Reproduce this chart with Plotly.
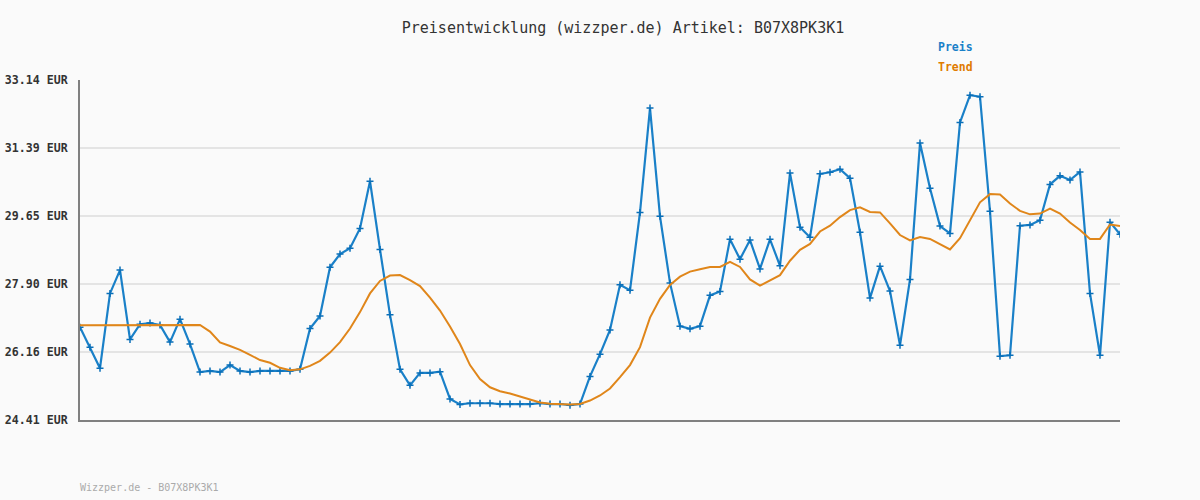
import plotly.graph_objects as go

title_text = "Preisentwicklung (wizzper.de) Artikel: B07X8PK3K1"
footer_text = "Wizzper.de - B07X8PK3K1"

preis = [
    26.79, 26.28, 25.74, 27.66, 28.26, 26.48, 26.87, 26.90, 26.85, 26.41,
    27.00, 26.36, 25.64, 25.67, 25.64, 25.82, 25.67, 25.64, 25.67, 25.67,
    25.67, 25.67, 25.71, 26.76, 27.08, 28.33, 28.67, 28.82, 29.33, 30.54,
    28.79, 27.11, 25.71, 25.30, 25.62, 25.62, 25.65, 24.95, 24.81, 24.84,
    24.84, 24.84, 24.82, 24.82, 24.82, 24.82, 24.84, 24.82, 24.82, 24.79,
    24.82, 25.53, 26.10, 26.72, 27.88, 27.74, 29.74, 32.42, 29.64, 27.93,
    26.82, 26.75, 26.82, 27.61, 27.71, 29.05, 28.54, 29.03, 28.29, 29.05,
    28.37, 30.75, 29.36, 29.10, 30.73, 30.77, 30.85, 30.62, 29.23, 27.54,
    28.36, 27.72, 26.33, 28.02, 31.52, 30.36, 29.39, 29.20, 32.05, 32.75,
    32.71, 29.77, 26.05, 26.07, 29.40, 29.42, 29.54, 30.46, 30.68, 30.57,
    30.78, 27.66, 26.07, 29.49, 29.18,
]

trend = [
    26.84, 26.84, 26.84, 26.84, 26.84, 26.84, 26.84, 26.84, 26.84, 26.84,
    26.85, 26.85, 26.85, 26.68, 26.40, 26.31, 26.21, 26.08, 25.95, 25.88,
    25.75, 25.69, 25.71, 25.80, 25.93, 26.14, 26.41, 26.76, 27.18, 27.66,
    27.98, 28.12, 28.13, 28.00, 27.85, 27.55, 27.22, 26.81, 26.36, 25.82,
    25.46, 25.25, 25.15, 25.09, 25.01, 24.94, 24.86, 24.83, 24.82, 24.81,
    24.82, 24.91, 25.04, 25.22, 25.51, 25.82, 26.28, 27.04, 27.52, 27.88,
    28.09, 28.22, 28.28, 28.34, 28.34, 28.47, 28.34, 28.02, 27.86, 28.00,
    28.13, 28.50, 28.78, 28.93, 29.25, 29.40, 29.62, 29.80, 29.87, 29.75,
    29.74, 29.46, 29.16, 29.02, 29.11, 29.06, 28.93, 28.79, 29.08, 29.55,
    30.00, 30.21, 30.20, 29.97, 29.78, 29.69, 29.71, 29.84, 29.71, 29.48,
    29.29, 29.06, 29.06, 29.43, 29.39,
]

y_ticks = [24.41, 26.16, 27.90, 29.65, 31.39, 33.14]
y_tick_labels = ["24.41 EUR", "26.16 EUR", "27.90 EUR", "29.65 EUR", "31.39 EUR", "33.14 EUR"]

x = list(range(len(preis)))

BLUE = "#1a80c8"
ORANGE = "#e0861a"
MONO = "DejaVu Sans Mono"

fig = go.Figure()
fig.add_trace(go.Scatter(
    x=x, y=preis, mode="lines+markers", name="Preis",
    line=dict(color=BLUE, width=2.2),
    marker=dict(symbol="cross-thin", size=5, color=BLUE, line=dict(color="#0a6fb8", width=1.5)),
    hoverinfo="y",
))
fig.add_trace(go.Scatter(
    x=x, y=trend, mode="lines", name="Trend",
    line=dict(color=ORANGE, width=2),
    hoverinfo="y",
))

fig.update_layout(
    width=1200, height=500,
    margin=dict(l=80, r=80, t=80, b=80, autoexpand=False),
    paper_bgcolor="#fafafa", plot_bgcolor="#fafafa",
    showlegend=False,
    font=dict(family=MONO, color="#333333"),
    title=dict(text=title_text, x=623 / 1200, xanchor="center", y=1 - 28 / 500, yanchor="middle",
               font=dict(family=MONO, size=15, color="#333333")),
)
fig.update_xaxes(
    range=[0, len(preis) - 1], showgrid=False, zeroline=False, showticklabels=False,
    showline=True, linecolor="#808080", linewidth=2, ticks="", automargin=False,
)
fig.update_yaxes(
    range=[y_ticks[0], y_ticks[-1]], tickvals=y_ticks, ticktext=y_tick_labels,
    showgrid=True, gridcolor="#e4e4e4", gridwidth=2, zeroline=False,
    showline=True, linecolor="#808080", linewidth=2, ticks="", automargin=False,
    tickfont=dict(family=MONO, size=11.6, color="#333333", weight="bold"),
    ticklabelstandoff=8,
)

plot_w, plot_h = 1040, 340
def px_to_paper(px, py):
    return (px - 80) / plot_w, 1 - (py - 80) / plot_h

ax, ay = px_to_paper(975, 47)
fig.add_annotation(text="Preis", xref="paper", yref="paper", x=ax, y=ay, showarrow=False,
                   xanchor="right", yanchor="middle",
                   font=dict(family=MONO, size=11.5, color=BLUE, weight="bold"))
ax, ay = px_to_paper(975, 67)
fig.add_annotation(text="Trend", xref="paper", yref="paper", x=ax, y=ay, showarrow=False,
                   xanchor="right", yanchor="middle",
                   font=dict(family=MONO, size=11.5, color="#e07b00", weight="bold"))
ax, ay = px_to_paper(78, 487)
fig.add_annotation(text=footer_text, xref="paper", yref="paper", x=ax, y=ay, showarrow=False,
                   xanchor="left", yanchor="middle",
                   font=dict(family=MONO, size=10, color="#aaaaaa"))

fig.write_html("out.html", config={"displayModeBar": False},
               post_script="document.body.style.margin='0';")
